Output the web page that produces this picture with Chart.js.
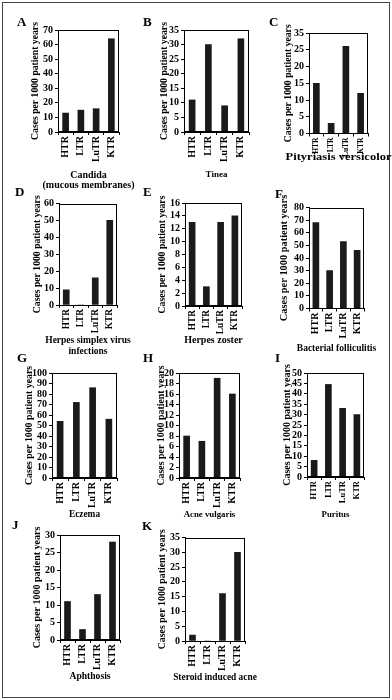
<!DOCTYPE html>
<html><head><meta charset="utf-8">
<script src="https://cdn.jsdelivr.net/npm/chart.js@4.4.1/dist/chart.umd.min.js"></script>
<style>
html,body{margin:0;padding:0;background:#fff;overflow:hidden;}
#fig{position:relative;width:392px;height:700px;overflow:hidden;background:#fff;}
#frame{position:absolute;left:2px;top:2px;width:386px;height:694px;border:1px solid #444;}
#fig canvas{position:absolute;}
</style></head><body><div id="fig"><div id="frame"></div></div>
<script>
// ---------- data ----------
const categories = ['HTR', 'LTR', 'LuTR', 'KTR'];
const panelLetters = ['A', 'B', 'C', 'D', 'E', 'F', 'G', 'H', 'I', 'J', 'K'];
const panelTitles = [
  ['Candida', '(mucous membranes)'],
  ['Tinea'],
  ['Pityriasis versicolor'],
  ['Herpes simplex virus', 'infections'],
  ['Herpes zoster'],
  ['Bacterial folliculitis'],
  ['Eczema'],
  ['Acne vulgaris'],
  ['Puritus'],
  ['Aphthosis'],
  ['Steroid induced acne']
];
const yAxisTitle = 'Cases per 1000 patient years';

const candida       = [13, 15, 16, 64];
const tinea         = [11, 30, 9, 32];
const pityriasis    = [15, 3, 26, 12];
const herpesSimplex = [9, 0, 16, 50];
const herpesZoster  = [13, 3, 13, 14];
const folliculitis  = [68, 30, 53, 46];
const eczema        = [54, 72, 86, 56];
const acneVulgaris  = [8, 7, 19, 16];
const puritus       = [8, 44.5, 33, 30];
const aphthosis     = [11, 3, 13, 28];
const steroidAcne   = [2, 0, 16, 30];
const seriesValues = [candida, tinea, pityriasis, herpesSimplex, herpesZoster,
  folliculitis, eczema, acneVulgaris, puritus, aphthosis, steroidAcne];

const yStep = [10, 5, 5, 10, 2, 10, 10, 2, 5, 5, 5];
const yTickLabels = [
  ['0', '10', '20', '30', '40', '50', '60', '70'],
  ['0', '5', '10', '15', '20', '25', '30', '35'],
  ['0', '5', '10', '15', '20', '25', '35'],
  ['0', '10', '20', '30', '40', '50', '60'],
  ['0', '2', '4', '6', '8', '10', '12', '14', '16'],
  ['0', '10', '20', '30', '40', '50', '60', '70', '80'],
  ['0', '10', '20', '30', '40', '50', '60', '70', '80', '90', '100'],
  ['0', '2', '4', '6', '8', '10', '12', '14', '16', '18', '20'],
  ['0', '5', '10', '15', '20', '25', '30', '35', '40', '45', '50'],
  ['0', '5', '10', '15', '20', '25', '30'],
  ['0', '5', '10', '15', '20', '25', '30', '35']
];

// ---------- layout (page pixels) ----------
const layout = [
  {area: [58, 30, 119, 132],  ycx: 35,    titleY: [175, 185],   letter: [17, 23],    tf: 10,   tsx: 1,    yf: 9.7, xf: 10},
  {area: [184, 30, 249, 132], ycx: 164,   titleY: [175],        letter: [143, 23],   tf: 9,    tsx: 1,    yf: 9.7, xf: 10},
  {area: [309, 33, 368, 133], ycx: 288,   titleY: [157.5],      letter: [269, 23],   tf: 10,   tsx: 1.25, yf: 9.7, xf: 7.5},
  {area: [59, 203, 117, 304], ycx: 37.5,  titleY: [340.5, 351], letter: [15, 192.5], tf: 9.5,  tsx: 1,    yf: 9.7, xf: 9.3},
  {area: [185, 203, 242, 306], ycx: 162.5, titleY: [340],       letter: [143, 193],  tf: 10,   tsx: 1,    yf: 9.7, xf: 9.3},
  {area: [309, 207, 364, 308], ycx: 284.5, titleY: [348.5],     letter: [275, 194.5], tf: 9.5, tsx: 1,    yf: 10.4, xf: 10},
  {area: [52, 373, 117, 478], ycx: 29,    titleY: [515],        letter: [17, 359],   tf: 9.4,  tsx: 1,    yf: 9.8, xf: 10},
  {area: [179, 373, 240, 478], ycx: 161,  titleY: [515],        letter: [143, 359],  tf: 8.8,  tsx: 1,    yf: 9.9, xf: 10},
  {area: [307, 373, 364, 477], ycx: 287,  titleY: [515],        letter: [275, 359],  tf: 8.8,  tsx: 1,    yf: 10,  xf: 8.5},
  {area: [60, 535, 120, 640], ycx: 37.5,  titleY: [677],        letter: [12, 526],   tf: 9.6,  tsx: 1,    yf: 10,  xf: 10},
  {area: [185, 537, 245, 640], ycx: 162.5, titleY: [677],       letter: [142, 526.5], tf: 9.4, tsx: 1,    yf: 9.9, xf: 10}
];

const FONT = "'Liberation Serif', 'Times New Roman', serif";

const framePlugin = {
  id: 'plotFrame',
  afterDatasetsDraw(chart) {
    const a = chart.chartArea, ctx = chart.ctx;
    ctx.save();
    ctx.strokeStyle = '#000';
    ctx.lineWidth = 1;
    ctx.strokeRect(Math.round(a.left) + 0.5, Math.round(a.top) + 0.5,
      Math.round(a.right - a.left) - 1, Math.round(a.bottom - a.top) - 1);
    ctx.restore();
  }
};

const textPlugin = {
  id: 'panelText',
  afterDraw(chart, args, opts) {
    const ctx = chart.ctx, a = chart.chartArea;
    ctx.save();
    ctx.fillStyle = '#000';
    ctx.textBaseline = 'middle';
    ctx.font = 'bold 13px ' + FONT;
    ctx.textAlign = 'left';
    ctx.fillText(opts.letter, opts.lx, opts.ly);
    ctx.font = 'bold ' + opts.tf + 'px ' + FONT;
    ctx.textAlign = 'center';
    const cx = (a.left + a.right) / 2;
    opts.lines.forEach((t, i) => {
      ctx.save();
      ctx.translate(cx, opts.ty[i]);
      ctx.scale(opts.tsx, 1);
      ctx.fillText(t, 0, 0);
      ctx.restore();
    });
    ctx.restore();
  }
};

const fig = document.getElementById('fig');
seriesValues.forEach((vals, p) => {
  const L = layout[p];
  const [aL, aT, aR, aB] = L.area;
  const yLine = L.yf * 1.2;
  const cellL = L.letter[0] - 2;
  const cellT = L.letter[1] - 10;
  const plotCx = (aL + aR) / 2;
  const cellR = plotCx + 62;
  const cellB = L.titleY[L.titleY.length - 1] + 8;
  const W = Math.round(cellR - cellL), H = Math.round(cellB - cellT);
  const cv = document.createElement('canvas');
  cv.width = W; cv.height = H;
  cv.style.left = cellL + 'px'; cv.style.top = cellT + 'px';
  cv.style.width = W + 'px'; cv.style.height = H + 'px';
  fig.appendChild(cv);
  const yLeft = L.ycx - yLine / 2;
  const labels = yTickLabels[p];
  const step = yStep[p];
  new Chart(cv, {
    type: 'bar',
    data: {
      labels: categories,
      datasets: [{data: vals, backgroundColor: '#1a1a1a', borderWidth: 0, barThickness: 6}]
    },
    options: {
      responsive: false, animation: false, devicePixelRatio: 1,
      layout: {padding: {left: yLeft - cellL, top: aT - cellT, right: cellL + W - aR, bottom: 0}},
      plugins: {
        legend: {display: false}, tooltip: {enabled: false},
        panelText: {letter: panelLetters[p], lx: L.letter[0] - cellL, ly: L.letter[1] - cellT,
          lines: panelTitles[p], ty: L.titleY.map(y => y - cellT), tf: L.tf, tsx: L.tsx}
      },
      scales: {
        x: {
          afterFit(s) { s.height = cellB - aB; },
          grid: {display: true, drawOnChartArea: false, drawTicks: true, tickLength: 3, color: '#000', offset: true},
          border: {display: true, color: '#000', width: 1},
          ticks: {minRotation: 90, maxRotation: 90, autoSkip: false, padding: 1, color: '#000',
            font: {family: FONT, size: L.xf, weight: 'bold'}}
        },
        y: {
          min: 0, max: (labels.length - 1) * step,
          afterFit(s) { s.width = aL - yLeft; },
          afterBuildTicks(s) { s.ticks = labels.map((_, i) => ({value: i * step})); },
          grid: {display: true, drawOnChartArea: false, drawTicks: true, tickLength: 3, color: '#000'},
          border: {display: true, color: '#000', width: 1},
          ticks: {autoSkip: false, padding: 2, color: '#000',
            font: {family: FONT, size: 10, weight: 'bold'},
            callback: (v, i) => labels[i]},
          title: {display: true, text: yAxisTitle, color: '#000', padding: 0,
            font: {family: FONT, size: L.yf, weight: 'bold', lineHeight: 1.2}}
        }
      }
    },
    plugins: [framePlugin, textPlugin]
  });
});
</script></body></html>
